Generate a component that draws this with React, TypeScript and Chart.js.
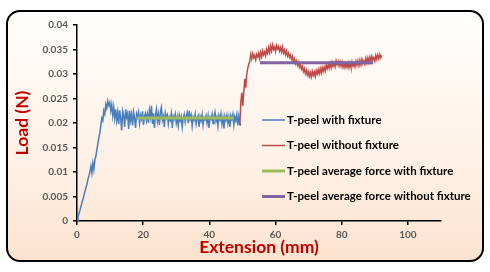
import React, { useEffect, useRef } from "react";
import { Chart, registerables } from "chart.js";
Chart.register(...registerables);

// Sampled load curves (N) at a fixed extension step (mm)
const blueStart = 0;
const blueStep = 0.3;
const blueLoad = [
  0, 0.0008, 0.0016, 0.0022, 0.003, 0.0037, 0.0045, 0.0052, 0.006, 0.0068,
  0.0075, 0.0085, 0.0092, 0.01, 0.0112, 0.0098, 0.0118, 0.0105, 0.0125, 0.0132,
  0.0145, 0.0158, 0.017, 0.018, 0.0195, 0.021, 0.0205, 0.0225, 0.0218, 0.0238,
  0.023, 0.0245, 0.0236, 0.0242, 0.0225, 0.0238, 0.0215, 0.0232, 0.021, 0.0228,
  0.0205,
  0.0222, 0.0198, 0.0226, 0.021, 0.0185, 0.0224, 0.0215, 0.0192, 0.0228, 0.0212,
  0.022, 0.0188, 0.0225, 0.0205, 0.0218, 0.0195, 0.0222, 0.021, 0.019, 0.0219,
  0.0212, 0.0222, 0.02, 0.0216, 0.0208, 0.0224, 0.0196, 0.0214, 0.022, 0.0205,
  0.0218, 0.02, 0.0226, 0.0212, 0.0235, 0.0198, 0.022, 0.019, 0.0215, 0.0228,
  0.0204, 0.0218, 0.0196, 0.0222, 0.0232, 0.0206, 0.0214, 0.0192, 0.022, 0.021,
  0.0216, 0.0198, 0.0212, 0.0206, 0.0219, 0.019, 0.0214, 0.0208, 0.0218, 0.02,
  0.0212, 0.0195, 0.0216, 0.0205, 0.0213, 0.0192, 0.021, 0.0218, 0.0202, 0.0214,
  0.0221, 0.02, 0.0225, 0.0208, 0.0216, 0.0194, 0.0212, 0.0206, 0.0218, 0.0198,
  0.021, 0.0215, 0.0192, 0.0213, 0.0205, 0.0217, 0.0196, 0.0211, 0.0207, 0.0215,
  0.02, 0.0214, 0.019, 0.0212, 0.0208, 0.0218, 0.0199, 0.0213, 0.0222, 0.0204,
  0.0212, 0.0194, 0.0215, 0.0207, 0.0219, 0.0198, 0.0211, 0.0189, 0.0214, 0.0206,
  0.0216, 0.02, 0.0212, 0.0192, 0.0215, 0.0208, 0.0218, 0.0196, 0.0213, 0.0205,
  0.0217, 0.0195, 0.0214, 0.02, 0.0195,
];

const redStart = 49.2;
const redStep = 0.3;
const redLoad = [
  0.0195, 0.024, 0.0262, 0.0235, 0.0262, 0.029, 0.0272, 0.03, 0.0312, 0.032, 0.0326,
  0.034, 0.0331, 0.0342, 0.0333, 0.0338, 0.0329, 0.034, 0.0335, 0.0343, 0.0332,
  0.0344, 0.0335, 0.0347, 0.0339, 0.0345, 0.0337, 0.035, 0.0343, 0.0354, 0.0344,
  0.0357, 0.0347, 0.0359, 0.035, 0.0355, 0.0346, 0.0358, 0.0351, 0.0356, 0.0347,
  0.0354, 0.0345, 0.0355, 0.0343, 0.0349, 0.034, 0.0347, 0.0337, 0.0343, 0.0334,
  0.0339, 0.033, 0.0336, 0.0325, 0.0331, 0.0321, 0.0327, 0.0318, 0.0324, 0.0314,
  0.0319, 0.031, 0.0316, 0.0305, 0.0311, 0.0301, 0.0308, 0.0298, 0.0305, 0.0295,
  0.0303, 0.0294, 0.0305, 0.0297, 0.0304, 0.0295, 0.0307, 0.03, 0.0309, 0.0301,
  0.0311, 0.0302, 0.0313, 0.0305, 0.0314, 0.0306, 0.0318, 0.0311, 0.032, 0.0312,
  0.0322, 0.0313, 0.0324, 0.0316, 0.0323, 0.0315, 0.0327, 0.0319, 0.0326, 0.0317,
  0.0325, 0.0316, 0.0324, 0.0314, 0.0322, 0.0313, 0.0321, 0.0314, 0.0323, 0.0313,
  0.0323, 0.0314, 0.0325, 0.0316, 0.0322, 0.0315, 0.0326, 0.0318, 0.0327, 0.0317,
  0.0328, 0.0319, 0.033, 0.0321, 0.0327, 0.032, 0.0332, 0.0323, 0.0333, 0.0324,
  0.0334, 0.0325, 0.0336, 0.0328, 0.0333, 0.0326, 0.0338, 0.033, 0.0339, 0.0331,
  0.034, 0.0333, 0.0338,
];

const avgWithX = [18, 47.4];
const avgWithLoad = 0.021;
const avgWithoutX = [55.3, 89.5];
const avgWithoutLoad = 0.0323;

const seriesLabels = [
  "T-peel with fixture",
  "T-peel without fixture",
  "T-peel average force with fixture",
  "T-peel average force without fixture",
];
const seriesColors = ["#4a7ebb", "#be4b48", "#9bbb59", "#8064a2"];

const xTicks = [0, 20, 40, 60, 80, 100];
const yTicks = [0, 0.005, 0.01, 0.015, 0.02, 0.025, 0.03, 0.035, 0.04];
const yTickLabels = ["0", "0.005", "0.01", "0.015", "0.02", "0.025", "0.03", "0.035", "0.04"];

const legendPlugin = {
  id: "insideLegend",
  afterDraw(chart: any) {
    const ctx = chart.ctx;
    const x0 = chart.chartArea.left + 185;
    const y0 = 120;
    const gap = 25.5;
    chart.data.datasets.forEach((ds: any, i: number) => {
      const y = y0 + i * gap;
      ctx.save();
      ctx.strokeStyle = ds.borderColor;
      ctx.lineWidth = i < 2 ? 1.5 : 3;
      ctx.beginPath();
      ctx.moveTo(x0, y);
      ctx.lineTo(x0 + 23, y);
      ctx.stroke();
      ctx.fillStyle = "#000";
      ctx.font = "bold 11.5px Lato";
      ctx.textBaseline = "middle";
      ctx.fillText(ds.label, x0 + 25, y);
      ctx.restore();
    });
  },
};

export default function App() {
  const ref = useRef<HTMLCanvasElement>(null);
  useEffect(() => {
    if (!ref.current) return;
    const blue = blueLoad.map((v, i) => ({ x: blueStart + i * blueStep, y: v }));
    const red = redLoad.map((v, i) => ({ x: redStart + i * redStep, y: v }));
    const green = avgWithX.map((x) => ({ x, y: avgWithLoad }));
    const purple = avgWithoutX.map((x) => ({ x, y: avgWithoutLoad }));
    const chart = new Chart(ref.current, {
      type: "line",
      data: {
        datasets: [
          { label: seriesLabels[0], data: blue, borderColor: seriesColors[0], borderWidth: 1.5, pointRadius: 0, tension: 0, order: 3 },
          { label: seriesLabels[1], data: red, borderColor: seriesColors[1], borderWidth: 1.5, pointRadius: 0, tension: 0, order: 2 },
          { label: seriesLabels[2], data: green, borderColor: seriesColors[2], borderWidth: 3, pointRadius: 0, order: 1 },
          { label: seriesLabels[3], data: purple, borderColor: seriesColors[3], borderWidth: 3, pointRadius: 0, order: 0 },
        ],
      },
      options: {
        animation: false,
        responsive: false,
        layout: { padding: { top: 25, right: 49, bottom: 14, left: 0 } },
        plugins: { legend: { display: false }, tooltip: { enabled: false } },
        scales: {
          x: {
            type: "linear",
            min: 0,
            max: 110,
            afterBuildTicks: (s: any) => {
              s.ticks = xTicks.map((v) => ({ value: v }));
            },
            afterFit: (s: any) => {
              s.height = 37;
            },
            grid: { display: true, drawOnChartArea: false, drawTicks: true, tickLength: 4, color: "#000", lineWidth: 1.5 },
            border: { color: "#000", width: 1.5 },
            ticks: { color: "#595959", font: { family: "Lato", size: 10, weight: "bold" }, padding: 4, maxRotation: 0 },
            title: {
              display: true,
              text: "Extension (mm)",
              color: "#c00000",
              font: { family: "Lato", size: 17.5, weight: "bold" },
              padding: 0,
            },
          },
          y: {
            type: "linear",
            min: 0,
            max: 0.04,
            afterBuildTicks: (s: any) => {
              s.ticks = yTicks.map((v) => ({ value: v }));
            },
            afterFit: (s: any) => {
              s.width = 77;
            },
            grid: { display: true, drawOnChartArea: false, drawTicks: true, tickLength: 4, color: "#000", lineWidth: 1.5 },
            border: { color: "#000", width: 1.5 },
            ticks: {
              color: "#595959",
              font: { family: "Lato", size: 10, weight: "bold" },
              padding: 5,
              callback: (_v: any, i: number) => yTickLabels[i],
            },
            title: {
              display: true,
              text: "Load (N)",
              color: "#c00000",
              font: { family: "Lato", size: 17.5, weight: "bold" },
              padding: 12,
            },
          },
        },
      },
      plugins: [legendPlugin],
    } as any);
    return () => chart.destroy();
  }, []);
  return (
    <div>
      <div
        style={{
          position: "absolute",
          left: 6,
          top: 10,
          width: 478,
          height: 252,
          boxSizing: "border-box",
          border: "2px solid #000",
          borderRadius: 14,
          background: "linear-gradient(to bottom, #fffefc 0%, #fef2e8 55%, #fde3cf 100%)",
        }}
      />
      <canvas ref={ref} width={490} height={272} style={{ position: "absolute", left: 0, top: 0 }} />
    </div>
  );
}
